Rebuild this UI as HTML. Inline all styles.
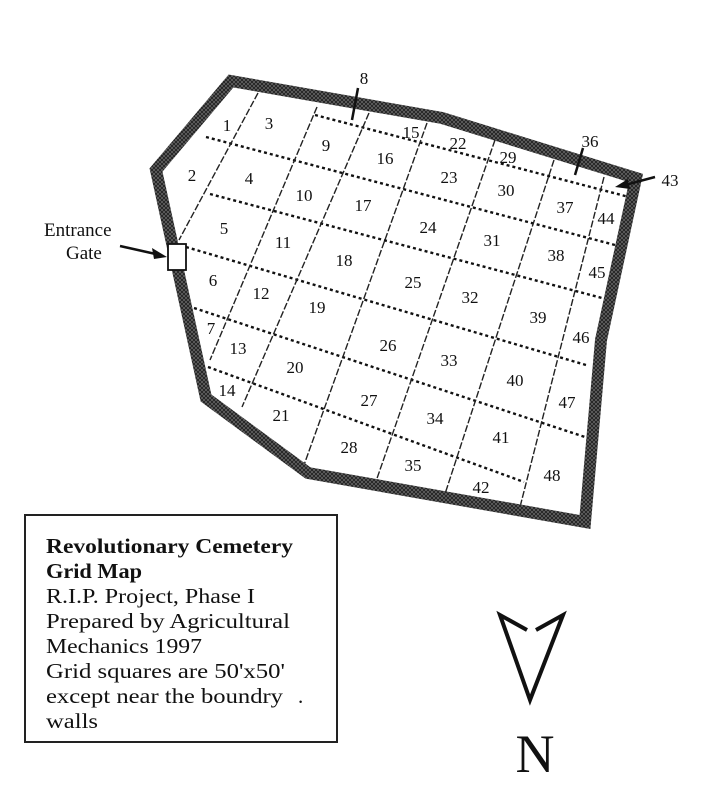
<!DOCTYPE html>
<html><head><meta charset="utf-8"><style>
html,body{margin:0;padding:0;background:#fff;}
svg{display:block;}
text{font-family:"Liberation Serif",serif;fill:#111;}
</style></head><body>
<svg width="701" height="811" viewBox="0 0 701 811" xmlns="http://www.w3.org/2000/svg">
<defs>
<pattern id="h" width="4" height="4" patternUnits="userSpaceOnUse">
<rect width="4" height="4" fill="#222"/>
<path d="M0,0 L4,4 M4,0 L0,4" stroke="#777" stroke-width="0.6"/>
</pattern>
</defs>
<rect width="701" height="811" fill="#fff"/>
<g stroke="#111" stroke-width="2.4" stroke-dasharray="3,3" fill="none">
<line x1="315" y1="115" x2="629" y2="197"/>
<line x1="206" y1="137" x2="615" y2="245"/>
<line x1="210" y1="194" x2="602" y2="298"/>
<line x1="186" y1="247" x2="586" y2="365"/>
<line x1="194" y1="308" x2="585" y2="437"/>
<line x1="208" y1="367" x2="524" y2="482"/>
</g>
<g stroke="#222" stroke-width="1.4" stroke-dasharray="7,2" fill="none">
<line x1="258" y1="93" x2="179" y2="240"/>
<line x1="317" y1="107" x2="210" y2="360"/>
<line x1="369" y1="113" x2="242" y2="407"/>
<line x1="427" y1="123" x2="304" y2="465"/>
<line x1="495" y1="140" x2="374" y2="487"/>
<line x1="554" y1="160" x2="444" y2="497"/>
<line x1="604" y1="177" x2="520" y2="507"/>
</g>
<polygon points="231,81 442,118 636,178 601,340 585,522 308,473 206,398 156,170" fill="none" stroke="url(#h)" stroke-width="12" stroke-linejoin="miter"/>
<rect x="168" y="244" width="18" height="26" fill="#fff" stroke="#111" stroke-width="1.8"/>
<line x1="120" y1="246" x2="160" y2="255" stroke="#111" stroke-width="2.5"/>
<polygon points="167,257 152,248 154,259" fill="#111"/>
<text x="44" y="236" font-size="19">Entrance</text>
<text x="66" y="259" font-size="19">Gate</text>
<line x1="358" y1="88" x2="352" y2="120" stroke="#111" stroke-width="2.5"/>
<line x1="583" y1="148" x2="575" y2="175" stroke="#111" stroke-width="2.5"/>
<line x1="655" y1="177" x2="625" y2="185" stroke="#111" stroke-width="2.5"/>
<polygon points="615,187 628,179 630,189" fill="#111"/>
<g font-size="17" text-anchor="middle">
<text x="364" y="84">8</text>
<text x="590" y="147">36</text>
<text x="670" y="186">43</text>
<text x="227" y="131">1</text>
<text x="269" y="129">3</text>
<text x="192" y="181">2</text>
<text x="249" y="184">4</text>
<text x="326" y="151">9</text>
<text x="411" y="138">15</text>
<text x="385" y="164">16</text>
<text x="458" y="149">22</text>
<text x="508" y="163">29</text>
<text x="449" y="183">23</text>
<text x="506" y="196">30</text>
<text x="565" y="213">37</text>
<text x="606" y="224">44</text>
<text x="304" y="201">10</text>
<text x="363" y="211">17</text>
<text x="224" y="234">5</text>
<text x="428" y="233">24</text>
<text x="492" y="246">31</text>
<text x="556" y="261">38</text>
<text x="283" y="248">11</text>
<text x="344" y="266">18</text>
<text x="597" y="278">45</text>
<text x="213" y="286">6</text>
<text x="413" y="288">25</text>
<text x="470" y="303">32</text>
<text x="261" y="299">12</text>
<text x="317" y="313">19</text>
<text x="538" y="323">39</text>
<text x="581" y="343">46</text>
<text x="211" y="334">7</text>
<text x="388" y="351">26</text>
<text x="238" y="354">13</text>
<text x="449" y="366">33</text>
<text x="295" y="373">20</text>
<text x="515" y="386">40</text>
<text x="227" y="396">14</text>
<text x="369" y="406">27</text>
<text x="567" y="408">47</text>
<text x="435" y="424">34</text>
<text x="281" y="421">21</text>
<text x="501" y="443">41</text>
<text x="349" y="453">28</text>
<text x="413" y="471">35</text>
<text x="552" y="481">48</text>
<text x="481" y="493">42</text>
</g>
<rect x="25" y="515" width="312" height="227" fill="#fff" stroke="#222" stroke-width="2"/>
<g font-size="21" lengthAdjust="spacingAndGlyphs">
<text x="46" y="553" font-weight="bold" textLength="247" lengthAdjust="spacingAndGlyphs">Revolutionary Cemetery</text>
<text x="46" y="578" font-weight="bold" textLength="96" lengthAdjust="spacingAndGlyphs">Grid Map</text>
<text x="46" y="603" textLength="209" lengthAdjust="spacingAndGlyphs">R.I.P. Project, Phase I</text>
<text x="46" y="628" textLength="244" lengthAdjust="spacingAndGlyphs">Prepared by Agricultural</text>
<text x="46" y="653" textLength="156" lengthAdjust="spacingAndGlyphs">Mechanics 1997</text>
<text x="46" y="678" textLength="239" lengthAdjust="spacingAndGlyphs">Grid squares are 50'x50'</text>
<text x="46" y="703" textLength="237" lengthAdjust="spacingAndGlyphs">except near the boundry</text>
<text x="298" y="703">.</text>
<text x="46" y="728" textLength="52" lengthAdjust="spacingAndGlyphs">walls</text>
</g>
<g stroke="#111" stroke-width="4" fill="none" stroke-linejoin="miter">
<polyline points="527,630 500,615 530,700 563,615 536,630"/>
</g>
<text x="535" y="772" font-size="54" text-anchor="middle">N</text>
</svg>
</body></html>
